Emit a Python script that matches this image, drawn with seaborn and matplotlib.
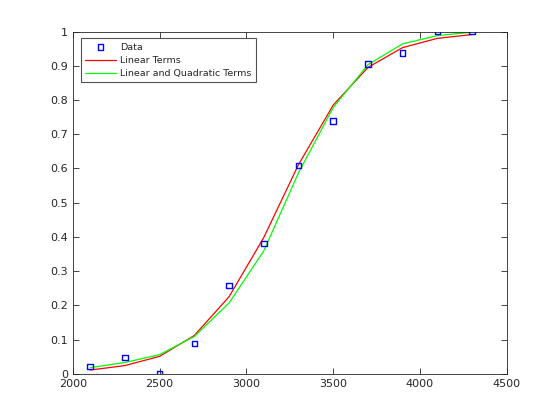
import numpy as np
import pandas as pd
import matplotlib
matplotlib.use("Agg")
import matplotlib.pyplot as plt
import seaborn as sns

# car weight vs proportion with poor mileage
weight = [2100, 2300, 2500, 2700, 2900, 3100, 3300, 3500, 3700, 3900, 4100, 4300]
proportion = [0.0208, 0.0476, 0.0, 0.0882, 0.2581, 0.3810, 0.6087, 0.7391, 0.9048, 0.9375, 1.0, 1.0]
fit_linear = [0.011, 0.024, 0.051, 0.112, 0.225, 0.398, 0.611, 0.785, 0.895, 0.953, 0.980, 0.991]
fit_quad = [0.018, 0.033, 0.056, 0.109, 0.207, 0.359, 0.587, 0.778, 0.903, 0.964, 0.988, 0.998]

df = pd.DataFrame({"weight": weight, "data": proportion,
                   "linear": fit_linear, "quad": fit_quad})

sns.set_style("white")
plt.rcParams["font.family"] = ["DejaVu Sans"]

fig = plt.figure(figsize=(5.6, 4.2), dpi=100)
ax = fig.add_axes([0.13, 0.11, 0.775, 0.815])

sns.scatterplot(data=df, x="weight", y="data", ax=ax, marker="s", s=16,
                facecolor="none", edgecolor="#0000ff", linewidth=1.0,
                label="Data", zorder=3)
sns.lineplot(data=df, x="weight", y="linear", ax=ax, color="#ff0000",
             linewidth=0.9, label="Linear Terms")
sns.lineplot(data=df, x="weight", y="quad", ax=ax, color="#00ff00",
             linewidth=0.9, label="Linear and Quadratic Terms")

ax.set_xlim(2000, 4500)
ax.set_ylim(0, 1)
ax.set_xticks(np.arange(2000, 4501, 500))
ax.set_yticks(np.round(np.arange(0, 1.01, 0.1), 1))
ax.set_yticklabels(["0", "0.1", "0.2", "0.3", "0.4", "0.5", "0.6", "0.7", "0.8", "0.9", "1"])
ax.set_xlabel("")
ax.set_ylabel("")
ax.tick_params(direction="in", length=4, width=0.6, labelsize=8, colors="#262626",
               top=True, right=True, bottom=True, left=True)
for sp in ax.spines.values():
    sp.set_visible(True)
    sp.set_color("#262626")
    sp.set_linewidth(0.6)

leg = ax.legend(loc="upper left", bbox_to_anchor=(0.0185, 0.98), borderaxespad=0,
                fontsize=6.8, frameon=True, fancybox=False, borderpad=0.45,
                handlelength=3.3, handletextpad=0.4, labelspacing=0.45)
leg.get_frame().set_edgecolor("#262626")
leg.get_frame().set_linewidth(0.8)

fig.savefig("out.png", dpi=100)
